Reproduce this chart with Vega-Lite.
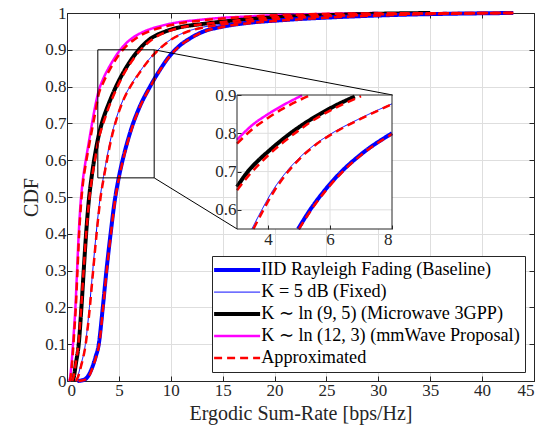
{
"$schema": "https://vega.github.io/schema/vega-lite/v6.json",
"width": 467, "height": 368,
"autosize": {"type": "none"},
"padding": {"left": 67, "top": 13, "right": 11, "bottom": 44},
"background": "white",
"config": {"font": "Liberation Serif", "view": {"stroke": "#262626", "strokeWidth": 1}},
"datasets": {"curves": [
{"s":"mm","c":"mm","x":0.2,"y":0},{"s":"mm","c":"mm","x":0.3,"y":0.01},{"s":"mm","c":"mm","x":0.4,"y":0.035},{"s":"mm","c":"mm","x":0.5,"y":0.07},{"s":"mm","c":"mm","x":0.65,"y":0.13},{"s":"mm","c":"mm","x":0.81,"y":0.2},{"s":"mm","c":"mm","x":0.97,"y":0.3},{"s":"mm","c":"mm","x":1.13,"y":0.4},{"s":"mm","c":"mm","x":1.3,"y":0.48},{"s":"mm","c":"mm","x":1.5,"y":0.54},{"s":"mm","c":"mm","x":1.75,"y":0.59},{"s":"mm","c":"mm","x":2.05,"y":0.64},{"s":"mm","c":"mm","x":2.35,"y":0.69},{"s":"mm","c":"mm","x":2.65,"y":0.737},{"s":"mm","c":"mm","x":3.0,"y":0.783},{"s":"mm","c":"mm","x":3.5,"y":0.822},{"s":"mm","c":"mm","x":4.0,"y":0.85},{"s":"mm","c":"mm","x":4.5,"y":0.874},{"s":"mm","c":"mm","x":5.1,"y":0.899},{"s":"mm","c":"mm","x":5.6,"y":0.915},{"s":"mm","c":"mm","x":6.2,"y":0.93},{"s":"mm","c":"mm","x":7.0,"y":0.944},{"s":"mm","c":"mm","x":7.8,"y":0.954},{"s":"mm","c":"mm","x":8.8,"y":0.963},{"s":"mm","c":"mm","x":9.8,"y":0.97},{"s":"mm","c":"mm","x":11,"y":0.976},{"s":"mm","c":"mm","x":12.3,"y":0.98},{"s":"mm","c":"mm","x":14.5,"y":0.986},{"s":"mm","c":"mm","x":17,"y":0.99},{"s":"mm","c":"mm","x":20,"y":0.994},{"s":"mm","c":"mm","x":24,"y":0.997},{"s":"mm","c":"mm","x":30,"y":1},
{"s":"mw","c":"mw","x":0.55,"y":0},{"s":"mw","c":"mw","x":0.65,"y":0.01},{"s":"mw","c":"mw","x":0.87,"y":0.05},{"s":"mw","c":"mw","x":1.13,"y":0.1},{"s":"mw","c":"mw","x":1.39,"y":0.2},{"s":"mw","c":"mw","x":1.61,"y":0.3},{"s":"mw","c":"mw","x":1.84,"y":0.4},{"s":"mw","c":"mw","x":2.1,"y":0.49},{"s":"mw","c":"mw","x":2.4,"y":0.56},{"s":"mw","c":"mw","x":2.7,"y":0.615},{"s":"mw","c":"mw","x":3.0,"y":0.66},{"s":"mw","c":"mw","x":3.35,"y":0.7},{"s":"mw","c":"mw","x":3.7,"y":0.73},{"s":"mw","c":"mw","x":4.0,"y":0.752},{"s":"mw","c":"mw","x":4.5,"y":0.786},{"s":"mw","c":"mw","x":5.0,"y":0.816},{"s":"mw","c":"mw","x":5.5,"y":0.842},{"s":"mw","c":"mw","x":6.0,"y":0.865},{"s":"mw","c":"mw","x":6.8,"y":0.896},{"s":"mw","c":"mw","x":7.9,"y":0.927},{"s":"mw","c":"mw","x":9.5,"y":0.95},{"s":"mw","c":"mw","x":11,"y":0.962},{"s":"mw","c":"mw","x":13,"y":0.97},{"s":"mw","c":"mw","x":16.2,"y":0.98},{"s":"mw","c":"mw","x":21,"y":0.99},{"s":"mw","c":"mw","x":26,"y":0.995},{"s":"mw","c":"mw","x":30,"y":0.998},{"s":"mw","c":"mw","x":35,"y":1},
{"s":"k5","c":"k5","x":0.8,"y":0},{"s":"k5","c":"k5","x":1.0,"y":0.01},{"s":"k5","c":"k5","x":1.3,"y":0.04},{"s":"k5","c":"k5","x":1.77,"y":0.1},{"s":"k5","c":"k5","x":2.16,"y":0.2},{"s":"k5","c":"k5","x":2.48,"y":0.3},{"s":"k5","c":"k5","x":2.81,"y":0.4},{"s":"k5","c":"k5","x":3.2,"y":0.5},{"s":"k5","c":"k5","x":3.48,"y":0.55},{"s":"k5","c":"k5","x":3.8,"y":0.6},{"s":"k5","c":"k5","x":4.15,"y":0.65},{"s":"k5","c":"k5","x":4.6,"y":0.7},{"s":"k5","c":"k5","x":5.0,"y":0.735},{"s":"k5","c":"k5","x":5.5,"y":0.77},{"s":"k5","c":"k5","x":6.0,"y":0.797},{"s":"k5","c":"k5","x":7.0,"y":0.84},{"s":"k5","c":"k5","x":8.0,"y":0.877},{"s":"k5","c":"k5","x":8.6,"y":0.895},{"s":"k5","c":"k5","x":10,"y":0.928},{"s":"k5","c":"k5","x":11.4,"y":0.948},{"s":"k5","c":"k5","x":13,"y":0.961},{"s":"k5","c":"k5","x":15.2,"y":0.97},{"s":"k5","c":"k5","x":18.7,"y":0.98},{"s":"k5","c":"k5","x":24,"y":0.99},{"s":"k5","c":"k5","x":29,"y":0.995},{"s":"k5","c":"k5","x":33,"y":0.998},{"s":"k5","c":"k5","x":38,"y":1},
{"s":"iid","c":"iid","x":1.0,"y":0},{"s":"iid","c":"iid","x":1.6,"y":0.003},{"s":"iid","c":"iid","x":2.0,"y":0.012},{"s":"iid","c":"iid","x":2.4,"y":0.035},{"s":"iid","c":"iid","x":2.75,"y":0.065},{"s":"iid","c":"iid","x":3.06,"y":0.1},{"s":"iid","c":"iid","x":3.45,"y":0.2},{"s":"iid","c":"iid","x":3.8,"y":0.3},{"s":"iid","c":"iid","x":4.2,"y":0.4},{"s":"iid","c":"iid","x":4.6,"y":0.49},{"s":"iid","c":"iid","x":4.97,"y":0.55},{"s":"iid","c":"iid","x":5.4,"y":0.605},{"s":"iid","c":"iid","x":5.8,"y":0.648},{"s":"iid","c":"iid","x":6.25,"y":0.69},{"s":"iid","c":"iid","x":7.0,"y":0.745},{"s":"iid","c":"iid","x":8.0,"y":0.8},{"s":"iid","c":"iid","x":8.9,"y":0.843},{"s":"iid","c":"iid","x":9.8,"y":0.88},{"s":"iid","c":"iid","x":10.8,"y":0.91},{"s":"iid","c":"iid","x":11.8,"y":0.93},{"s":"iid","c":"iid","x":13,"y":0.948},{"s":"iid","c":"iid","x":15,"y":0.963},{"s":"iid","c":"iid","x":16.8,"y":0.971},{"s":"iid","c":"iid","x":21,"y":0.981},{"s":"iid","c":"iid","x":27,"y":0.99},{"s":"iid","c":"iid","x":32,"y":0.995},{"s":"iid","c":"iid","x":37,"y":0.998},{"s":"iid","c":"iid","x":43,"y":1},
{"s":"apx","c":"mma","x":0.25,"y":0},{"s":"apx","c":"mma","x":0.35,"y":0.01},{"s":"apx","c":"mma","x":0.45,"y":0.035},{"s":"apx","c":"mma","x":0.55,"y":0.07},{"s":"apx","c":"mma","x":0.69,"y":0.13},{"s":"apx","c":"mma","x":0.85,"y":0.2},{"s":"apx","c":"mma","x":1.01,"y":0.3},{"s":"apx","c":"mma","x":1.17,"y":0.4},{"s":"apx","c":"mma","x":1.35,"y":0.48},{"s":"apx","c":"mma","x":1.55,"y":0.54},{"s":"apx","c":"mma","x":1.8,"y":0.588},{"s":"apx","c":"mma","x":2.1,"y":0.636},{"s":"apx","c":"mma","x":2.42,"y":0.685},{"s":"apx","c":"mma","x":2.73,"y":0.73},{"s":"apx","c":"mma","x":3.0,"y":0.773},{"s":"apx","c":"mma","x":3.5,"y":0.811},{"s":"apx","c":"mma","x":4.0,"y":0.84},{"s":"apx","c":"mma","x":4.5,"y":0.865},{"s":"apx","c":"mma","x":5.0,"y":0.886},{"s":"apx","c":"mma","x":5.35,"y":0.899},{"s":"apx","c":"mma","x":5.9,"y":0.915},{"s":"apx","c":"mma","x":6.5,"y":0.928},{"s":"apx","c":"mma","x":7.2,"y":0.941},{"s":"apx","c":"mma","x":8.0,"y":0.951},{"s":"apx","c":"mma","x":9.0,"y":0.96},{"s":"apx","c":"mma","x":10.2,"y":0.968},{"s":"apx","c":"mma","x":11.5,"y":0.975},{"s":"apx","c":"mma","x":13,"y":0.98},{"s":"apx","c":"mma","x":15,"y":0.985},{"s":"apx","c":"mma","x":17.5,"y":0.99},{"s":"apx","c":"mma","x":20.5,"y":0.994},{"s":"apx","c":"mma","x":24,"y":0.997},{"s":"apx","c":"mma","x":30,"y":0.999},{"s":"apx","c":"mma","x":43,"y":1},
{"s":"apx","c":"mwa","x":0.5,"y":0},{"s":"apx","c":"mwa","x":0.62,"y":0.01},{"s":"apx","c":"mwa","x":0.85,"y":0.05},{"s":"apx","c":"mwa","x":1.1,"y":0.1},{"s":"apx","c":"mwa","x":1.37,"y":0.2},{"s":"apx","c":"mwa","x":1.6,"y":0.3},{"s":"apx","c":"mwa","x":1.85,"y":0.4},{"s":"apx","c":"mwa","x":2.13,"y":0.49},{"s":"apx","c":"mwa","x":2.45,"y":0.56},{"s":"apx","c":"mwa","x":2.77,"y":0.613},{"s":"apx","c":"mwa","x":3.0,"y":0.651},{"s":"apx","c":"mwa","x":3.4,"y":0.692},{"s":"apx","c":"mwa","x":3.75,"y":0.722},{"s":"apx","c":"mwa","x":4.0,"y":0.742},{"s":"apx","c":"mwa","x":4.5,"y":0.777},{"s":"apx","c":"mwa","x":5.0,"y":0.808},{"s":"apx","c":"mwa","x":5.5,"y":0.836},{"s":"apx","c":"mwa","x":6.0,"y":0.859},{"s":"apx","c":"mwa","x":7.0,"y":0.897},{"s":"apx","c":"mwa","x":8.1,"y":0.926},{"s":"apx","c":"mwa","x":9.7,"y":0.95},{"s":"apx","c":"mwa","x":11.2,"y":0.962},{"s":"apx","c":"mwa","x":13.2,"y":0.97},{"s":"apx","c":"mwa","x":16.5,"y":0.98},{"s":"apx","c":"mwa","x":21,"y":0.99},{"s":"apx","c":"mwa","x":26,"y":0.995},{"s":"apx","c":"mwa","x":30,"y":0.998},{"s":"apx","c":"mwa","x":43,"y":1},
{"s":"apx","c":"k5a","x":0.85,"y":0},{"s":"apx","c":"k5a","x":1.05,"y":0.01},{"s":"apx","c":"k5a","x":1.35,"y":0.04},{"s":"apx","c":"k5a","x":1.8,"y":0.1},{"s":"apx","c":"k5a","x":2.2,"y":0.2},{"s":"apx","c":"k5a","x":2.52,"y":0.3},{"s":"apx","c":"k5a","x":2.85,"y":0.4},{"s":"apx","c":"k5a","x":3.24,"y":0.5},{"s":"apx","c":"k5a","x":3.53,"y":0.55},{"s":"apx","c":"k5a","x":3.84,"y":0.598},{"s":"apx","c":"k5a","x":4.19,"y":0.648},{"s":"apx","c":"k5a","x":4.63,"y":0.698},{"s":"apx","c":"k5a","x":5.03,"y":0.734},{"s":"apx","c":"k5a","x":5.52,"y":0.769},{"s":"apx","c":"k5a","x":6.02,"y":0.796},{"s":"apx","c":"k5a","x":7.0,"y":0.838},{"s":"apx","c":"k5a","x":8.0,"y":0.876},{"s":"apx","c":"k5a","x":8.6,"y":0.894},{"s":"apx","c":"k5a","x":10,"y":0.927},{"s":"apx","c":"k5a","x":11.4,"y":0.947},{"s":"apx","c":"k5a","x":13,"y":0.96},{"s":"apx","c":"k5a","x":15.2,"y":0.97},{"s":"apx","c":"k5a","x":18.7,"y":0.98},{"s":"apx","c":"k5a","x":24,"y":0.99},{"s":"apx","c":"k5a","x":29,"y":0.995},{"s":"apx","c":"k5a","x":33,"y":0.998},{"s":"apx","c":"k5a","x":43,"y":1},
{"s":"apx","c":"iida","x":1.1,"y":0},{"s":"apx","c":"iida","x":1.7,"y":0.003},{"s":"apx","c":"iida","x":2.1,"y":0.012},{"s":"apx","c":"iida","x":2.45,"y":0.035},{"s":"apx","c":"iida","x":2.8,"y":0.065},{"s":"apx","c":"iida","x":3.1,"y":0.1},{"s":"apx","c":"iida","x":3.48,"y":0.2},{"s":"apx","c":"iida","x":3.83,"y":0.3},{"s":"apx","c":"iida","x":4.23,"y":0.4},{"s":"apx","c":"iida","x":4.63,"y":0.49},{"s":"apx","c":"iida","x":5.0,"y":0.55},{"s":"apx","c":"iida","x":5.43,"y":0.604},{"s":"apx","c":"iida","x":5.83,"y":0.647},{"s":"apx","c":"iida","x":6.28,"y":0.689},{"s":"apx","c":"iida","x":7.0,"y":0.743},{"s":"apx","c":"iida","x":8.0,"y":0.798},{"s":"apx","c":"iida","x":8.9,"y":0.842},{"s":"apx","c":"iida","x":9.8,"y":0.879},{"s":"apx","c":"iida","x":10.8,"y":0.909},{"s":"apx","c":"iida","x":11.8,"y":0.929},{"s":"apx","c":"iida","x":13,"y":0.947},{"s":"apx","c":"iida","x":15,"y":0.962},{"s":"apx","c":"iida","x":16.8,"y":0.97},{"s":"apx","c":"iida","x":21,"y":0.98},{"s":"apx","c":"iida","x":27,"y":0.99},{"s":"apx","c":"iida","x":32,"y":0.995},{"s":"apx","c":"iida","x":37,"y":0.998},{"s":"apx","c":"iida","x":43,"y":1}
]},
"layer": [
{
"data": {"name": "curves"},
"encoding": {
"x": {"field": "x", "type": "quantitative", "scale": {"domain": [0, 45], "nice": false, "zero": false},
 "axis": {"orient": "bottom", "values": [0,5,10,15,20,25,30,35,40,45], "title": "Ergodic Sum-Rate [bps/Hz]", "grid": true, "gridColor": "#dedede", "tickSize": -5, "tickColor": "#262626", "domainColor": "#262626", "labelColor": "#262626", "labelFont": "Liberation Serif", "labelFontSize": 17, "labelPadding": 6, "titleFont": "Liberation Serif", "titleFontSize": 20, "titleFontWeight": "normal", "titleColor": "#262626", "titlePadding": 5}},
"y": {"field": "y", "type": "quantitative", "scale": {"domain": [0, 1], "nice": false, "zero": false},
 "axis": {"orient": "left", "values": [0,0.1,0.2,0.3,0.4,0.5,0.6,0.7,0.8,0.9,1], "format": "~g", "title": "CDF", "grid": true, "gridColor": "#dedede", "tickSize": -5, "tickColor": "#262626", "domainColor": "#262626", "labelColor": "#262626", "labelFont": "Liberation Serif", "labelFontSize": 17, "labelPadding": 6, "titleFont": "Liberation Serif", "titleFontSize": 20, "titleFontWeight": "normal", "titleColor": "#262626", "titlePadding": 3}},
"color": {"field": "s", "type": "nominal", "scale": {"domain": ["iid","k5","mw","mm","apx"], "range": ["#0000ff","#0000ff","#000000","#ff00ff","#ff0000"]},
 "legend": {"title": null, "orient": "bottom-right", "offset": 9, "labelExpr": "datum.value == 'iid' ? 'IID Rayleigh Fading (Baseline)' : datum.value == 'k5' ? 'K = 5 dB (Fixed)' : datum.value == 'mw' ? 'K ∼ ln (9, 5) (Microwave 3GPP)' : datum.value == 'mm' ? 'K ∼ ln (12, 3) (mmWave Proposal)' : 'Approximated'", "symbolType": "M-4.6,0H4.6", "symbolSize": 100, "symbolOffset": 11, "labelOffset": 15, "labelFont": "Liberation Serif", "labelFontSize": 18.2, "labelColor": "black", "labelLimit": 400, "strokeColor": "#262626", "fillColor": "white", "padding": 5, "rowPadding": 3}},
"strokeWidth": {"field": "s", "type": "nominal", "scale": {"type": "ordinal", "domain": ["iid","k5","mw","mm","apx"], "range": [4,1,4,2.5,2.5]},
 "legend": {"title": null, "orient": "bottom-right", "offset": 9, "labelExpr": "datum.value == 'iid' ? 'IID Rayleigh Fading (Baseline)' : datum.value == 'k5' ? 'K = 5 dB (Fixed)' : datum.value == 'mw' ? 'K ∼ ln (9, 5) (Microwave 3GPP)' : datum.value == 'mm' ? 'K ∼ ln (12, 3) (mmWave Proposal)' : 'Approximated'", "symbolType": "M-4.6,0H4.6", "symbolSize": 100, "symbolOffset": 11, "labelOffset": 15, "labelFont": "Liberation Serif", "labelFontSize": 18.2, "labelColor": "black", "labelLimit": 400, "strokeColor": "#262626", "fillColor": "white", "padding": 5, "rowPadding": 3}},
"strokeDash": {"field": "s", "type": "nominal", "scale": {"domain": ["iid","k5","mw","mm","apx"], "range": [[1,0],[1,0],[1,0],[1,0],[8,5]]},
 "legend": {"title": null, "orient": "bottom-right", "offset": 9, "labelExpr": "datum.value == 'iid' ? 'IID Rayleigh Fading (Baseline)' : datum.value == 'k5' ? 'K = 5 dB (Fixed)' : datum.value == 'mw' ? 'K ∼ ln (9, 5) (Microwave 3GPP)' : datum.value == 'mm' ? 'K ∼ ln (12, 3) (mmWave Proposal)' : 'Approximated'", "symbolType": "M-4.6,0H4.6", "symbolSize": 100, "symbolOffset": 11, "labelOffset": 15, "labelFont": "Liberation Serif", "labelFontSize": 18.2, "labelColor": "black", "labelLimit": 400, "strokeColor": "#262626", "fillColor": "white", "padding": 5, "rowPadding": 3}},
"detail": {"field": "c", "type": "nominal"}
},
"layer": [
{"transform": [{"filter": "datum.s != 'apx'"}], "mark": {"type": "line", "interpolate": "monotone"}},
{"transform": [{"filter": "datum.s == 'apx'"}], "mark": {"type": "line", "interpolate": "monotone"}}
]
},
{
"data": {"values": [{}]},
"encoding": {
"x": {"datum": 2.97, "type": "quantitative", "scale": {"domain": [0, 45], "nice": false, "zero": false},
 "axis": {"orient": "top", "values": [0,5,10,15,20,25,30,35,40,45], "labels": false, "title": null, "grid": false, "tickSize": -5, "tickColor": "#262626", "domainColor": "#262626"}},
"y": {"datum": 0.552, "type": "quantitative", "scale": {"domain": [0, 1], "nice": false, "zero": false},
 "axis": {"orient": "right", "values": [0,0.1,0.2,0.3,0.4,0.5,0.6,0.7,0.8,0.9,1], "labels": false, "title": null, "grid": false, "tickSize": -5, "tickColor": "#262626", "domainColor": "#262626"}}
},
"layer": [
{"mark": {"type": "rect", "fill": null, "stroke": "#000000", "strokeWidth": 1}, "encoding": {"x2": {"datum": 8.4}, "y2": {"datum": 0.9}}},
{"mark": {"type": "rule", "color": "#000000", "strokeWidth": 1}, "encoding": {"x": {"datum": 8.4, "type": "quantitative"}, "y": {"datum": 0.9, "type": "quantitative"}, "x2": {"datum": 31.4}, "y2": {"datum": 0.777}}},
{"mark": {"type": "rule", "color": "#000000", "strokeWidth": 1}, "encoding": {"x": {"datum": 8.4, "type": "quantitative"}, "y": {"datum": 0.552, "type": "quantitative"}, "x2": {"datum": 16.4}, "y2": {"datum": 0.413}}}
]
},
{
"layer": [
{"data": {"values": [{}]}, "mark": {"type": "rect", "fill": "white"},
 "encoding": {
 "x": {"datum": 3, "type": "quantitative", "scale": {"domain": [3, 8], "range": [170, 325], "nice": false, "zero": false},
  "axis": {"orient": "bottom", "offset": -152, "values": [4,6,8], "format": "d", "title": null, "grid": false, "domain": false, "tickSize": -4, "tickColor": "#262626", "labelColor": "#262626", "labelFont": "Liberation Serif", "labelFontSize": 17, "labelPadding": 6, "zindex": 1}},
 "y": {"datum": 0.55, "type": "quantitative", "scale": {"domain": [0.55, 0.9], "range": [216, 82], "nice": false, "zero": false},
  "axis": {"orient": "left", "offset": -170, "values": [0.6,0.7,0.8,0.9], "format": ".1f", "title": null, "grid": false, "domain": false, "tickSize": -4, "tickColor": "#262626", "labelColor": "#262626", "labelFont": "Liberation Serif", "labelFontSize": 17, "labelPadding": 5, "zindex": 1}},
 "x2": {"datum": 8}, "y2": {"datum": 0.9}}},
{"data": {"values": [{"g": 4}, {"g": 6}]}, "mark": {"type": "rule", "color": "#dedede", "strokeWidth": 1},
 "encoding": {"x": {"field": "g", "type": "quantitative"}, "y": {"datum": 0.55, "type": "quantitative"}, "y2": {"datum": 0.9}}},
{"data": {"values": [{"g": 0.6}, {"g": 0.7}, {"g": 0.8}]}, "mark": {"type": "rule", "color": "#dedede", "strokeWidth": 1},
 "encoding": {"y": {"field": "g", "type": "quantitative"}, "x": {"datum": 3, "type": "quantitative"}, "x2": {"datum": 8}}},
{"data": {"name": "curves"},
 "transform": [{"filter": "datum.x >= 2.999 && datum.x <= 8.001 && datum.y >= 0.549 && datum.y <= 0.9001"}],
 "encoding": {
 "x": {"field": "x", "type": "quantitative"},
 "y": {"field": "y", "type": "quantitative"},
 "color": {"field": "s", "type": "nominal", "scale": {"domain": ["iid","k5","mw","mm","apx"], "range": ["#0000ff","#0000ff","#000000","#ff00ff","#ff0000"]},
  "legend": {"title": null, "orient": "bottom-right", "offset": 9, "labelExpr": "datum.value == 'iid' ? 'IID Rayleigh Fading (Baseline)' : datum.value == 'k5' ? 'K = 5 dB (Fixed)' : datum.value == 'mw' ? 'K ∼ ln (9, 5) (Microwave 3GPP)' : datum.value == 'mm' ? 'K ∼ ln (12, 3) (mmWave Proposal)' : 'Approximated'", "symbolType": "M-4.6,0H4.6", "symbolSize": 100, "symbolOffset": 11, "labelOffset": 15, "labelFont": "Liberation Serif", "labelFontSize": 18.2, "labelColor": "black", "labelLimit": 400, "strokeColor": "#262626", "fillColor": "white", "padding": 5, "rowPadding": 3}},
 "strokeWidth": {"field": "s", "type": "nominal", "scale": {"type": "ordinal", "domain": ["iid","k5","mw","mm","apx"], "range": [4,1,4,2.5,2.5]},
  "legend": {"title": null, "orient": "bottom-right", "offset": 9, "labelExpr": "datum.value == 'iid' ? 'IID Rayleigh Fading (Baseline)' : datum.value == 'k5' ? 'K = 5 dB (Fixed)' : datum.value == 'mw' ? 'K ∼ ln (9, 5) (Microwave 3GPP)' : datum.value == 'mm' ? 'K ∼ ln (12, 3) (mmWave Proposal)' : 'Approximated'", "symbolType": "M-4.6,0H4.6", "symbolSize": 100, "symbolOffset": 11, "labelOffset": 15, "labelFont": "Liberation Serif", "labelFontSize": 18.2, "labelColor": "black", "labelLimit": 400, "strokeColor": "#262626", "fillColor": "white", "padding": 5, "rowPadding": 3}},
 "strokeDash": {"field": "s", "type": "nominal", "scale": {"domain": ["iid","k5","mw","mm","apx"], "range": [[1,0],[1,0],[1,0],[1,0],[8,5]]},
  "legend": {"title": null, "orient": "bottom-right", "offset": 9, "labelExpr": "datum.value == 'iid' ? 'IID Rayleigh Fading (Baseline)' : datum.value == 'k5' ? 'K = 5 dB (Fixed)' : datum.value == 'mw' ? 'K ∼ ln (9, 5) (Microwave 3GPP)' : datum.value == 'mm' ? 'K ∼ ln (12, 3) (mmWave Proposal)' : 'Approximated'", "symbolType": "M-4.6,0H4.6", "symbolSize": 100, "symbolOffset": 11, "labelOffset": 15, "labelFont": "Liberation Serif", "labelFontSize": 18.2, "labelColor": "black", "labelLimit": 400, "strokeColor": "#262626", "fillColor": "white", "padding": 5, "rowPadding": 3}},
 "detail": {"field": "c", "type": "nominal"}
 },
 "layer": [
 {"transform": [{"filter": "datum.s != 'apx'"}], "mark": {"type": "line", "interpolate": "monotone"}},
 {"transform": [{"filter": "datum.s == 'apx'"}], "mark": {"type": "line", "interpolate": "monotone"}}
 ]
},
{"data": {"values": [{}]}, "mark": {"type": "rect", "fill": null, "stroke": "#262626", "strokeWidth": 1},
 "encoding": {"x": {"datum": 3, "type": "quantitative"}, "x2": {"datum": 8}, "y": {"datum": 0.55, "type": "quantitative"}, "y2": {"datum": 0.9}}}
]
}
],
"resolve": {"scale": {"x": "independent", "y": "independent"}}
}
